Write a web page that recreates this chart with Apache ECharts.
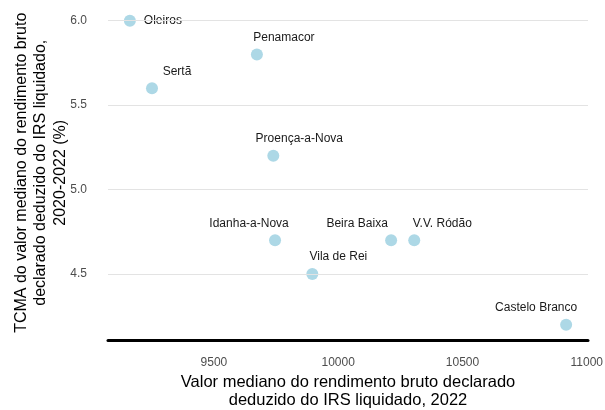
<!DOCTYPE html>
<html>
<head>
<meta charset="utf-8">
<script src="https://cdn.jsdelivr.net/npm/echarts@6/dist/echarts.min.js"></script>
<style>html,body{margin:0;padding:0;background:#fff}#c{width:605px;height:410px}</style>
</head>
<body>
<div id="c"></div>
<script>
const names = ['Oleiros','Penamacor','Sertã','Proença-a-Nova','Idanha-a-Nova','Beira Baixa','V.V. Ródão','Vila de Rei','Castelo Branco'];
const rendimento = [9162, 9673, 9251, 9739, 9746, 10213, 10306, 9896, 10917];
const tcma = [6.0, 5.8, 5.6, 5.2, 4.7, 4.7, 4.7, 4.5, 4.2];
const xTicks = [9500, 10000, 10500, 11000];
const yTicks = [4.5, 5.0, 5.5, 6.0];

// label placement (layout only)
const labelPlace = {
  'Oleiros': {position: 'right', offset: [3, 0]},
  'Penamacor': {position: 'top', offset: [27, 0]},
  'Sertã': {position: 'top', offset: [25, 0]},
  'Proença-a-Nova': {position: 'top', offset: [26, 0]},
  'Idanha-a-Nova': {position: 'top', offset: [-26, 0]},
  'Beira Baixa': {position: 'top', offset: [-34, 0]},
  'V.V. Ródão': {position: 'top', offset: [28, 0]},
  'Vila de Rei': {position: 'top', offset: [26, 0]},
  'Castelo Branco': {position: 'top', offset: [-30, 0]}
};

const data = names.map((n, i) => ({
  name: n,
  value: [rendimento[i], tcma[i]],
  label: labelPlace[n]
}));

const chart = echarts.init(document.getElementById('c'), null, {renderer: 'canvas'});
chart.setOption({
  animation: false,
  grid: {left: 108, right: 17, top: 5.5, bottom: 70, containLabel: false, outerBoundsMode: 'none'},
  xAxis: {
    type: 'value', min: 9074, max: 11005,
    name: 'Valor mediano do rendimento bruto declarado\ndeduzido do IRS liquidado, 2022',
    nameLocation: 'middle', nameGap: 33,
    nameTextStyle: {fontFamily: 'Liberation Sans', fontSize: 16.5, color: '#000', lineHeight: 18, verticalAlign: 'top', align: 'center'},
    axisLine: {show: true, onZero: false, lineStyle: {color: '#000', width: 3}},
    axisTick: {show: false},
    splitLine: {show: false},
    axisLabel: {
      margin: 17, fontFamily: 'Liberation Sans', fontSize: 12, color: '#4d4d4d',
      customValues: xTicks, formatter: v => String(v)
    }
  },
  yAxis: {
    type: 'value', min: 4.11, max: 6.09,
    name: 'TCMA do valor mediano do rendimento bruto\ndeclarado deduzido do IRS liquidado,\n2020-2022 (%)',
    nameLocation: 'middle', nameGap: 67, nameRotate: 90, nameMoveOverlap: false,
    nameTextStyle: {fontFamily: 'Liberation Sans', fontSize: 16, color: '#000', lineHeight: 19.5, align: 'center', verticalAlign: 'middle'},
    axisLine: {show: false},
    axisTick: {show: false},
    splitLine: {show: false},
    axisLabel: {
      margin: 21, fontFamily: 'Liberation Sans', fontSize: 12, color: '#4d4d4d',
      customValues: yTicks, formatter: v => v.toFixed(1)
    }
  },
  series: [
    {
      type: 'line', silent: true, symbol: 'none', data: [],
      markLine: {
        silent: true, symbol: 'none', label: {show: false},
        lineStyle: {color: '#e3e3e3', width: 1.2, type: 'solid'},
        data: yTicks.map(v => ({yAxis: v}))
      },
      z: 1
    },
    {
      type: 'scatter',
      symbolSize: 12,
      itemStyle: {color: '#add8e6', opacity: 1},
      label: {
        show: true, formatter: p => p.name, distance: 5,
        fontFamily: 'Liberation Sans', fontSize: 12, color: '#1a1a1a'
      },
      data: data,
      z: 3
    }
  ]
});
</script>
</body>
</html>
